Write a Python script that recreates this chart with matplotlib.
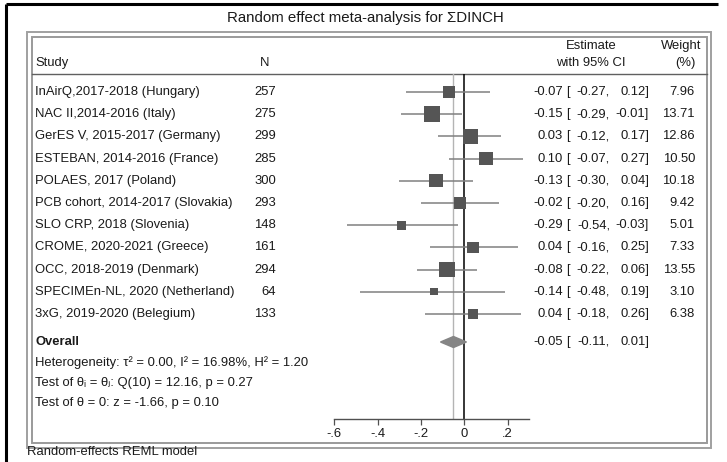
import matplotlib.pyplot as plt
from matplotlib.patches import Rectangle, Polygon

plt.rcParams['font.family'] = ['Liberation Sans', 'DejaVu Sans']

# Study data
studies = ["InAirQ,2017-2018 (Hungary)", "NAC II,2014-2016 (Italy)",
           "GerES V, 2015-2017 (Germany)", "ESTEBAN, 2014-2016 (France)",
           "POLAES, 2017 (Poland)", "PCB cohort, 2014-2017 (Slovakia)",
           "SLO CRP, 2018 (Slovenia)", "CROME, 2020-2021 (Greece)",
           "OCC, 2018-2019 (Denmark)", "SPECIMEn-NL, 2020 (Netherland)",
           "3xG, 2019-2020 (Belegium)"]
n = [257, 275, 299, 285, 300, 293, 148, 161, 294, 64, 133]
est = [-0.07, -0.15, 0.03, 0.10, -0.13, -0.02, -0.29, 0.04, -0.08, -0.14, 0.04]
lo = [-0.27, -0.29, -0.12, -0.07, -0.30, -0.20, -0.54, -0.16, -0.22, -0.48, -0.18]
hi = [0.12, -0.01, 0.17, 0.27, 0.04, 0.16, -0.03, 0.25, 0.06, 0.19, 0.26]
weight = [7.96, 13.71, 12.86, 10.50, 10.18, 9.42, 5.01, 7.33, 13.55, 3.10, 6.38]

overall_est = -0.05
overall_lo = -0.11
overall_hi = 0.01

xticks = [-0.6, -0.4, -0.2, 0, 0.2]
xticklabels = ["-.6", "-.4", "-.2", "0", ".2"]

W, H = 727, 462
fig = plt.figure(figsize=(W / 100, H / 100), dpi=100)

# background axes in pixel units for frame and text columns
bg = fig.add_axes([0, 0, 1, 1])
bg.set_xlim(0, W)
bg.set_ylim(H, 0)
bg.axis('off')

txt = '#1a1a1a'
fs = 9.4

# row positions
row0 = 92
step = 22.2
rows = [row0 + i * step for i in range(len(studies))]
y_overall = 342
y_stats = [363, 383, 403]

# outer border lines
bg.plot([6, 718], [4, 4], color='black', lw=2.2, solid_capstyle='butt')
bg.plot([6, 6], [4, H], color='black', lw=2.2, solid_capstyle='butt')

# double frame
bg.add_patch(Rectangle((27, 32), 684, 416, fill=False, ec='#a0a0a0', lw=1.4))
bg.add_patch(Rectangle((32, 37), 675, 406, fill=False, ec='#9a9a9a', lw=1.4))
bg.plot([32, 707], [74, 74], color='#606060', lw=1.0)

# title
bg.text(365, 18, "Random effect meta-analysis for ΣDINCH", ha='center', va='center',
        fontsize=10.8, color=txt)

# header
bg.text(35, 63, "Study", ha='left', va='center', fontsize=fs, color=txt)
bg.text(265, 63, "N", ha='center', va='center', fontsize=fs, color=txt)
bg.text(591, 46, "Estimate", ha='center', va='center', fontsize=fs, color=txt)
bg.text(591, 63, "with 95% CI", ha='center', va='center', fontsize=fs, color=txt)
bg.text(681, 46, "Weight", ha='center', va='center', fontsize=fs, color=txt)
bg.text(685, 63, "(%)", ha='center', va='center', fontsize=fs, color=txt)


def ci_text(y, e, l, h):
    bg.text(563, y, f"{e:.2f}", ha='right', va='center', fontsize=fs, color=txt)
    bg.text(566, y, "[", ha='left', va='center', fontsize=fs, color=txt)
    bg.text(610, y, f"{l:.2f},", ha='right', va='center', fontsize=fs, color=txt)
    bg.text(649, y, f"{h:.2f}]", ha='right', va='center', fontsize=fs, color=txt)


# study rows
for i in range(len(studies)):
    y = rows[i]
    bg.text(35, y, studies[i], ha='left', va='center', fontsize=fs, color=txt)
    bg.text(276, y, str(n[i]), ha='right', va='center', fontsize=fs, color=txt)
    ci_text(y, est[i], lo[i], hi[i])
    bg.text(695, y, f"{weight[i]:.2f}", ha='right', va='center', fontsize=fs, color=txt)

# overall row
bg.text(35, y_overall, "Overall", ha='left', va='center', fontsize=fs, color=txt,
        fontweight='bold')
ci_text(y_overall, overall_est, overall_lo, overall_hi)

stats = ["Heterogeneity: τ² = 0.00, I² = 16.98%, H² = 1.20",
         "Test of θᵢ = θⱼ: Q(10) = 12.16, p = 0.27",
         "Test of θ = 0: z = -1.66, p = 0.10"]
for y, s in zip(y_stats, stats):
    bg.text(35, y, s, ha='left', va='center', fontsize=fs, color=txt)

bg.text(27, 452, "Random-effects REML model", ha='left', va='center', fontsize=fs, color=txt)

# forest plot axes, y in the same pixel units
ax = fig.add_axes([334.3 / W, (H - 419) / H, 195 / W, 345 / H])
ax.set_xlim(-0.6, 0.3)
ax.set_ylim(419, 74)
ax.patch.set_alpha(0)
for s in ['top', 'right', 'left']:
    ax.spines[s].set_visible(False)
ax.spines['bottom'].set_color('#505050')
ax.spines['bottom'].set_linewidth(1.0)
ax.set_yticks([])
ax.set_xticks(xticks)
ax.set_xticklabels(xticklabels, fontsize=fs, color=txt)
ax.tick_params(axis='x', length=4, width=0.9, color='#505050', pad=2.5)

ax.axvline(overall_est, color='#b4b4b4', lw=1.0, zorder=1)
ax.axvline(0, color='black', lw=1.1, zorder=1)

ax.hlines(rows, lo, hi, color='#808080', lw=1.1, zorder=2)
ax.scatter(est, rows, s=[9 * w for w in weight], marker='s', color='#555555',
           linewidths=0, zorder=3)

# overall diamond
d = 5.5
ax.add_patch(Polygon([(overall_lo, y_overall), (overall_est, y_overall - d),
                      (overall_hi, y_overall), (overall_est, y_overall + d)],
                     closed=True, color='#858585', zorder=3))

plt.savefig("out.png", dpi=100)
